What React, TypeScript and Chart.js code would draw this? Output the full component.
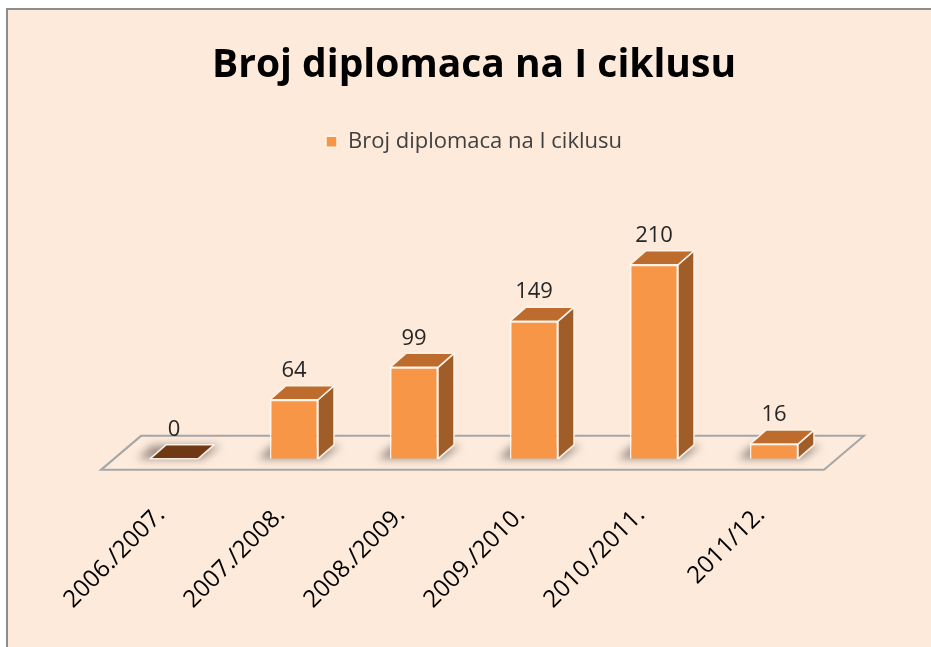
import React, { useEffect, useRef } from 'react';
import { Chart, registerables } from 'chart.js';

Chart.register(...registerables);

const chartTitle = 'Broj diplomaca na I ciklusu';
const seriesName = 'Broj diplomaca na I ciklusu';
const categories = ['2006./2007.', '2007./2008.', '2008./2009.', '2009./2010.', '2010./2011.', '2011/12.'];
const values = [0, 64, 99, 149, 210, 16];
const yMin = 0;
const yMax = 250;

const FONT = '"Open Sans", sans-serif';
const DX = 16;
const DY = 14;
const LEGEND_EXTRA = 65;
const AXIS_TRIM = 43;

const FRONT = '#F79646';
const SIDE = '#A15D28';
const TOP = '#BE6C2E';
const TOP_ZERO = '#6E3914';
const EDGE = 'rgba(255,246,236,0.95)';

export default function App() {
  const ref = useRef<HTMLCanvasElement>(null);

  useEffect(() => {
    const canvas = ref.current;
    if (!canvas) return;

    const background = {
      id: 'background',
      beforeDraw(chart: any) {
        const { ctx, width, height } = chart;
        ctx.save();
        ctx.fillStyle = '#ffffff';
        ctx.fillRect(0, 0, width, height);
        ctx.fillStyle = '#FDEADA';
        ctx.fillRect(7, 9, width - 7, height - 9);
        ctx.strokeStyle = '#8c8c8c';
        ctx.lineWidth = 2;
        ctx.beginPath();
        ctx.moveTo(7, height);
        ctx.lineTo(7, 9);
        ctx.lineTo(width, 9);
        ctx.stroke();
        ctx.restore();
      },
    };

    const legendSpace = {
      id: 'legendSpace',
      beforeInit(chart: any) {
        const fit = chart.legend.fit;
        chart.legend.fit = function () {
          fit.call(this);
          this.height += LEGEND_EXTRA;
        };
      },
    };

    const floorAndShadows = {
      id: 'floorAndShadows',
      beforeDatasetsDraw(chart: any) {
        const { ctx, chartArea } = chart;
        const base = chart.scales.y.getPixelForValue(0);
        const fl = chartArea.left - 13;
        const fr = chartArea.right - 10;
        const fy = base + 11;
        const by = base - 23;
        const off = 40;
        ctx.save();
        ctx.beginPath();
        ctx.moveTo(fl, fy);
        ctx.lineTo(fr, fy);
        ctx.lineTo(fr + off, by);
        ctx.lineTo(fl + off, by);
        ctx.closePath();
        ctx.fillStyle = '#FDEBDD';
        ctx.fill();
        ctx.strokeStyle = '#A6A6A6';
        ctx.lineWidth = 2;
        ctx.stroke();

        const meta = chart.getDatasetMeta(0);
        meta.data.forEach((el: any) => {
          const { x, width } = el.getProps(['x', 'width'], true);
          const l = x - width / 2;
          const r = x + width / 2;
          ctx.save();
          ctx.filter = 'blur(4px)';
          ctx.fillStyle = 'rgba(70,60,55,0.55)';
          ctx.beginPath();
          ctx.moveTo(l - 12, base);
          ctx.lineTo(r + 4, base);
          ctx.lineTo(r + DX + 6, base - DY + 1);
          ctx.lineTo(l + DX - 14, base - DY + 1);
          ctx.closePath();
          ctx.fill();
          ctx.restore();
        });
        ctx.restore();
      },
    };

    const bars3d = {
      id: 'bars3d',
      afterDatasetsDraw(chart: any) {
        const { ctx } = chart;
        const meta = chart.getDatasetMeta(0);
        const data = chart.data.datasets[0].data as number[];
        meta.data.forEach((el: any, i: number) => {
          const { x, y, base, width } = el.getProps(['x', 'y', 'base', 'width'], true);
          const l = x - width / 2;
          const r = x + width / 2;
          ctx.save();
          ctx.lineJoin = 'round';
          ctx.strokeStyle = EDGE;
          ctx.lineWidth = 1.5;
          if (base - y > 0.5) {
            ctx.beginPath();
            ctx.moveTo(r, y);
            ctx.lineTo(r + DX, y - DY);
            ctx.lineTo(r + DX, base - DY);
            ctx.lineTo(r, base);
            ctx.closePath();
            ctx.fillStyle = SIDE;
            ctx.fill();
            ctx.stroke();
          }
          ctx.beginPath();
          ctx.moveTo(l, y);
          ctx.lineTo(l + DX, y - DY);
          ctx.lineTo(r + DX, y - DY);
          ctx.lineTo(r, y);
          ctx.closePath();
          ctx.fillStyle = data[i] === 0 ? TOP_ZERO : TOP;
          ctx.fill();
          ctx.stroke();
          ctx.fillStyle = '#262626';
          ctx.font = `22px ${FONT}`;
          ctx.textAlign = 'center';
          ctx.textBaseline = 'middle';
          ctx.fillText(String(data[i]), x, y - DY - 15);
          ctx.restore();
        });
      },
    };

    const chart = new Chart(canvas, {
      type: 'bar',
      data: {
        labels: categories,
        datasets: [
          {
            label: seriesName,
            data: values,
            backgroundColor: FRONT,
            borderColor: EDGE,
            borderWidth: 1.5,
            barPercentage: 0.4,
            categoryPercentage: 1,
          },
        ],
      },
      options: {
        responsive: false,
        animation: false,
        layout: { padding: { left: 114, right: 97, top: 0, bottom: 34 } },
        plugins: {
          title: {
            display: true,
            text: chartTitle,
            color: '#000000',
            font: { family: FONT, size: 39, weight: 'bold' },
            padding: { top: 42, bottom: 32 },
          },
          legend: {
            display: true,
            labels: {
              color: '#404040',
              font: { family: FONT, size: 22 },
              boxWidth: 11,
              boxHeight: 11,
            },
          },
          tooltip: { enabled: false },
        },
        scales: {
          x: {
            grid: { display: false, drawTicks: false },
            border: { display: false },
            afterFit(scale: any) {
              scale.height = scale.height - AXIS_TRIM;
            },
            ticks: {
              autoSkip: false,
              minRotation: 45,
              maxRotation: 45,
              padding: 42,
              labelOffset: -13,
              color: '#000000',
              font: { family: FONT, size: 24 },
            },
          },
          y: { display: false, min: yMin, max: yMax },
        },
      },
      plugins: [background, legendSpace, floorAndShadows, bars3d],
    });

    return () => chart.destroy();
  }, []);

  return (
    <div style={{ position: 'fixed', left: 0, top: 0, width: 931, height: 647 }}>
      <canvas ref={ref} width={931} height={647} />
    </div>
  );
}
